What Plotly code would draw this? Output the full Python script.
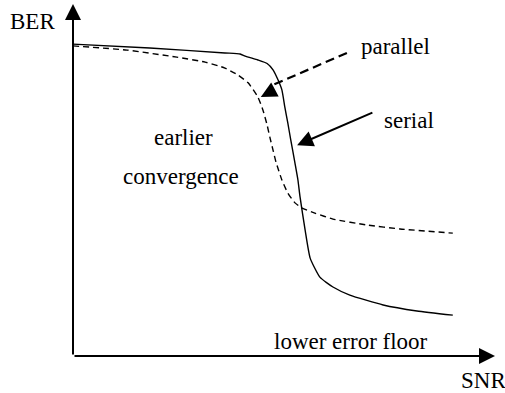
import plotly.graph_objects as go

# Schematic BER vs SNR curves (arbitrary units, 0-100 on both axes)
serial_snr = [0, 18.2, 36.0, 39.6, 40.8, 43.8, 46.0, 47.4, 48.6, 49.5, 50.2, 50.9, 51.6,
              52.6, 53.3, 53.8, 55.0, 56.2, 58.5, 61.6, 65.6, 73.5, 81.5, 90.0]
serial_ber = [88.6, 87.5, 86.1, 85.8, 85.2, 84.1, 83.1, 81.3, 78.4, 75.6, 70.7, 66.2, 61.4,
              54.8, 50.0, 45.2, 35.8, 27.8, 22.4, 19.6, 17.3, 14.5, 12.8, 11.6]

parallel_snr = [0, 12.8, 24.6, 31.3, 36.0, 39.1, 41.5, 43.8, 45.0, 46.0, 46.7, 47.4, 48.1, 49.5,
                50.9, 52.6, 54.3, 57.3, 61.6, 69.7, 77.5, 90.0]
parallel_ber = [88.1, 86.9, 84.9, 83.5, 81.8, 79.8, 77.6, 73.6, 69.9, 65.6, 61.9, 58.5, 55.1, 50.0,
                46.3, 43.5, 42.0, 40.6, 38.9, 37.2, 36.1, 34.9]

FONT = dict(family="Liberation Serif, Times New Roman, serif", size=23, color="black")

fig = go.Figure()
fig.add_trace(go.Scatter(x=serial_snr, y=serial_ber, mode="lines",
                         line=dict(color="black", width=1.4, shape="spline", smoothing=0.5),
                         hoverinfo="skip"))
fig.add_trace(go.Scatter(x=parallel_snr, y=parallel_ber, mode="lines",
                         line=dict(color="black", width=1.4, dash="6px,4px", shape="spline", smoothing=0.5),
                         hoverinfo="skip"))

ARROW = dict(showarrow=True, arrowhead=2, arrowsize=1.6, arrowwidth=2, arrowcolor="black", text="",
             xref="x", yref="y", axref="x", ayref="y")
annotations = []
# axes with arrowheads
annotations.append(dict(x=0, y=100, ax=0, ay=0, **ARROW))
annotations.append(dict(x=100, y=0, ax=0, ay=0, **ARROW))
# serial arrow (solid)
annotations.append(dict(x=53.1, y=59.9, ax=71.3, ay=69.3, **ARROW))
# parallel arrow head (the dashed shaft is a shape)
annotations.append(dict(x=44.5, y=73.6, ax=47.5, ay=75.5, **ARROW))

labels = [
    ("parallel", 76.5, 87.8),
    ("serial", 79.6, 67.0),
    ("earlier", 26.1, 62.2),
    ("convergence", 25.6, 50.9),
    ("lower error floor", 65.9, 4.0),
]
for t, x, y in labels:
    annotations.append(dict(text=t, x=x, y=y, xref="x", yref="y", showarrow=False,
                            xanchor="center", yanchor="middle", font=FONT))
# axis titles sit outside the axis ranges -> paper coordinates
for t, x, y in [("BER", -0.097, 0.949), ("SNR", 0.972, -0.071)]:
    annotations.append(dict(text=t, x=x, y=y, xref="paper", yref="paper", showarrow=False,
                            xanchor="center", yanchor="middle", font=FONT))

fig.update_layout(
    width=505, height=393,
    margin=dict(l=73, r=10, t=4, b=37),
    paper_bgcolor="white", plot_bgcolor="white",
    showlegend=False,
    xaxis=dict(range=[0, 100], visible=False),
    yaxis=dict(range=[0, 100], visible=False),
    annotations=annotations,
    shapes=[dict(type="line", xref="x", yref="y", x0=64.9, y0=86.1, x1=47.0, y1=76.8,
                 line=dict(color="black", width=2.2, dash="9px,5px"))],
)

fig.write_html("out.html", config={"displayModeBar": False},
               post_script="document.body.style.margin='0';")
